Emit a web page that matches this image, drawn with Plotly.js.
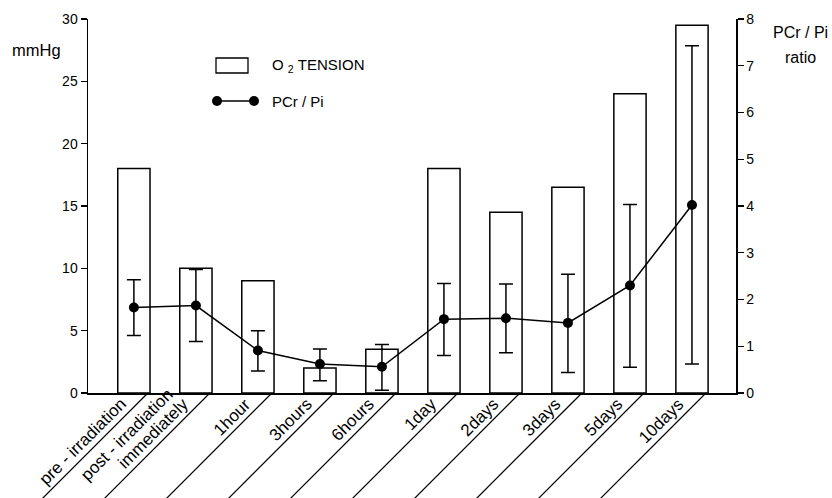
<!DOCTYPE html>
<html><head><meta charset="utf-8">
<script src="https://cdn.plot.ly/plotly-3.0.1.min.js"></script>
<style>body{margin:0;background:#fff}</style>
</head><body>
<div id="chart" style="width:832px;height:498px"></div>
<script>
const categories = ["pre - irradiation", "post - irradiation<br>immediately", "1hour", "3hours", "6hours", "1day", "2days", "3days", "5days", "10days"];
const o2Tension = [18, 10, 9, 2, 3.5, 18, 14.5, 16.5, 24, 29.5];
const pcrPi = [1.83, 1.87, 0.91, 0.62, 0.56, 1.58, 1.60, 1.50, 2.30, 4.02];
const errPlus = [0.59, 0.77, 0.42, 0.32, 0.48, 0.76, 0.73, 1.04, 1.73, 3.41];
const errMinus = [0.60, 0.77, 0.44, 0.36, 0.50, 0.78, 0.74, 1.06, 1.75, 3.40];
const leftTicks = [0, 5, 10, 15, 20, 25, 30];
const rightTicks = [0, 1, 2, 3, 4, 5, 6, 7, 8];

const FONT = 'Liberation Sans, Arial, sans-serif';
const W = 832, H = 498, ML = 88, MR = 96, MT = 19, MB = 105;
const PW = W - ML - MR, PH = H - MT - MB;
const XR = [-0.74, 9.71];
const px = x => (x - ML) / PW;
const py = y => (H - MB - y) / PH;
const catPaper = i => (i - XR[0]) / (XR[1] - XR[0]);

const idx = categories.map((c, i) => i);

const traces = [
  {type: 'bar', x: idx, y: o2Tension, width: 0.52,
   marker: {color: '#fff', line: {color: '#000', width: 1.5}}, yaxis: 'y', hoverinfo: 'y'},
  {type: 'scatter', mode: 'lines+markers', x: idx, y: pcrPi, yaxis: 'y2',
   line: {color: '#000', width: 1.5}, marker: {color: '#000', size: 10},
   error_y: {type: 'data', symmetric: false, array: errPlus, arrayminus: errMinus,
             color: '#000', thickness: 1.5, width: 7}}
];

const shapes = [];
idx.forEach(i => {
  shapes.push({type: 'line', xref: 'paper', yref: 'paper', xsizemode: 'pixel', ysizemode: 'pixel',
    xanchor: catPaper(i), yanchor: 0, x0: 14, x1: 14 - 130, y0: 0, y1: -130,
    line: {color: '#000', width: 1.2}});
});
// legend glyphs
shapes.push({type: 'rect', xref: 'paper', yref: 'paper', x0: px(216), x1: px(248), y0: py(73), y1: py(58),
  line: {color: '#000', width: 1.3}, fillcolor: '#fff'});
shapes.push({type: 'line', xref: 'paper', yref: 'paper', x0: px(217), x1: px(254), y0: py(101), y1: py(101),
  line: {color: '#000', width: 1.3}});
[217, 254].forEach(cx => shapes.push({type: 'circle', xref: 'paper', yref: 'paper',
  x0: px(cx - 5), x1: px(cx + 5), y0: py(106), y1: py(96), fillcolor: '#000', line: {color: '#000', width: 0}}));

const ann = (text, x, y, size, xa) => ({text, xref: 'paper', yref: 'paper', x: px(x), y: py(y),
  xanchor: xa || 'center', yanchor: 'middle', showarrow: false, font: {family: FONT, size, color: '#000'}});

const annotations = [
  ann('mmHg', 36, 50, 16.5),
  ann('PCr / Pi', 800, 32, 16),
  ann('ratio', 800, 58, 16),
  ann('O&nbsp;<sub>2</sub>&nbsp;TENSION', 270, 66, 15, 'left'),
  ann('PCr / Pi', 270, 101, 15, 'left')
];

// slanted category labels
categories.forEach((c, i) => {
  const lines = c.split('<br>').reverse();
  lines.forEach((t, j) => {
    annotations.push({text: t, xref: 'paper', yref: 'paper', x: catPaper(i), y: 0,
      xanchor: 'right', yanchor: 'top', textangle: -45, showarrow: false,
      xshift: -1 - 15 * j, yshift: 1 + 10 * j,
      font: {family: FONT, size: 17, color: '#000'}});
  });
});

const layout = {
  width: W, height: H, margin: {l: ML, r: MR, t: MT, b: MB},
  paper_bgcolor: '#fff', plot_bgcolor: '#fff', showlegend: false,
  font: {family: FONT, color: '#000'},
  xaxis: {type: 'linear', range: XR, showticklabels: false,
    ticks: '', showline: true, linecolor: '#000', linewidth: 1.5, showgrid: false, zeroline: false, automargin: false},
  yaxis: {range: [0, 30], tickvals: leftTicks, ticks: 'outside', ticklen: 6, tickwidth: 1.2, tickcolor: '#000',
    showline: true, linecolor: '#000', linewidth: 1.5, showgrid: false, zeroline: false,
    tickfont: {family: FONT, size: 14, color: '#000'}, automargin: false},
  yaxis2: {range: [0, 8], tickvals: rightTicks, overlaying: 'y', side: 'right', ticks: 'outside', ticklen: 6,
    tickwidth: 1.2, tickcolor: '#000', showline: true, linecolor: '#000', linewidth: 1.5,
    showgrid: false, zeroline: false, tickfont: {family: FONT, size: 14, color: '#000'}, automargin: false},
  shapes, annotations
};

Plotly.newPlot('chart', traces, layout, {displayModeBar: false, staticPlot: true});
</script>
</body></html>
